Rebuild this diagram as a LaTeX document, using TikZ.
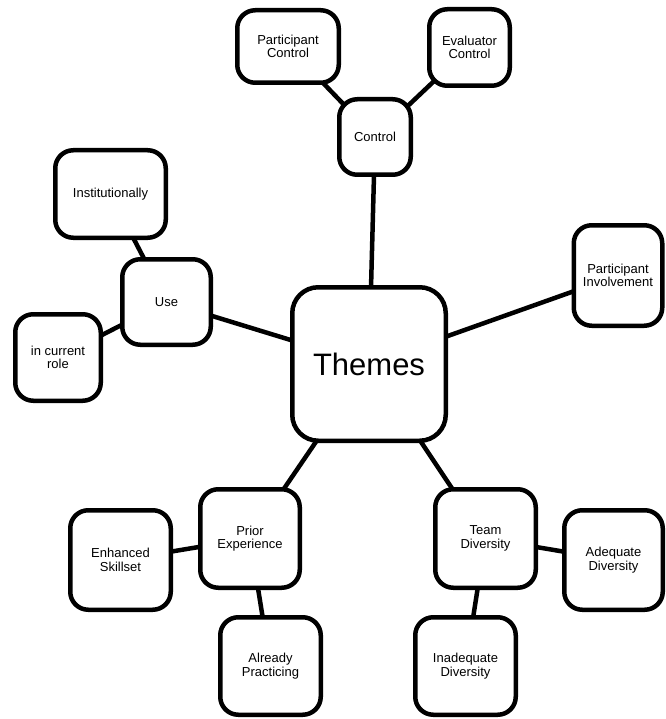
\documentclass[tikz,border=0pt]{standalone}
\usepackage{fontspec}
\setmainfont{Liberation Sans}
\usetikzlibrary{backgrounds}
\begin{document}
\begin{tikzpicture}[x=1pt,y=-1pt,
  box/.style={draw=black, line width=4.5pt, fill=white, rounded corners=18pt,
    align=center, inner sep=0pt, font=\fontsize{13}{13.5}\selectfont},
  bigbox/.style={box, rounded corners=26pt, font=\fontsize{31}{33}\selectfont},
  link/.style={draw=black, line width=4.5pt}]
\useasboundingbox (0,0) rectangle (665,719);
\node[box, minimum width=101.5pt, minimum height=72.5pt] (pc) at (288,46.5) {Participant\\Control};
\node[box, minimum width=80.5pt, minimum height=76.5pt] (ec) at (469.5,47.5) {Evaluator\\Control};
\node[box, minimum width=71.5pt, minimum height=75.5pt] (ctl) at (375,137) {Control};
\node[box, minimum width=110.5pt, minimum height=87.5pt] (inst) at (110.5,194) {Institutionally};
\node[box, minimum width=88.5pt, minimum height=85.5pt] (use) at (166.5,302) {Use};
\node[box, minimum width=85.5pt, minimum height=86.5pt] (icr) at (58,357.5) {in current\\role};
\node[bigbox, minimum width=153.5pt, minimum height=153.5pt] (themes) at (369,364) {Themes};
\node[box, minimum width=88.5pt, minimum height=100.5pt] (pi) at (618,275.5) {Participant\\Involvement};
\node[box, minimum width=99.5pt, minimum height=98.5pt] (prior) at (250,538.5) {Prior\\Experience};
\node[box, minimum width=100.5pt, minimum height=99.5pt] (enh) at (120.5,560) {Enhanced\\Skillset};
\node[box, minimum width=100.5pt, minimum height=97.5pt] (alr) at (270.5,666) {Already\\Practicing};
\node[box, minimum width=100.5pt, minimum height=98.5pt] (team) at (485.5,538.5) {Team\\Diversity};
\node[box, minimum width=98.5pt, minimum height=99.5pt] (adq) at (613.5,560) {Adequate\\Diversity};
\node[box, minimum width=100.5pt, minimum height=97.5pt] (inad) at (465.5,666) {Inadequate\\Diversity};
\begin{scope}[on background layer]
\draw[link] (pc.center) -- (ctl.center);
\draw[link] (ec.center) -- (ctl.center);
\draw[link] (ctl.center) -- (themes.center);
\draw[link] (inst.center) -- (use.center);
\draw[link] (icr.center) -- (use.center);
\draw[link] (use.center) -- (themes.center);
\draw[link] (themes.center) -- (pi.center);
\draw[link] (themes.center) -- (prior.center);
\draw[link] (themes.center) -- (team.center);
\draw[link] (prior.center) -- (enh.center);
\draw[link] (prior.center) -- (alr.center);
\draw[link] (team.center) -- (adq.center);
\draw[link] (team.center) -- (inad.center);
\end{scope}
\end{tikzpicture}
\end{document}
